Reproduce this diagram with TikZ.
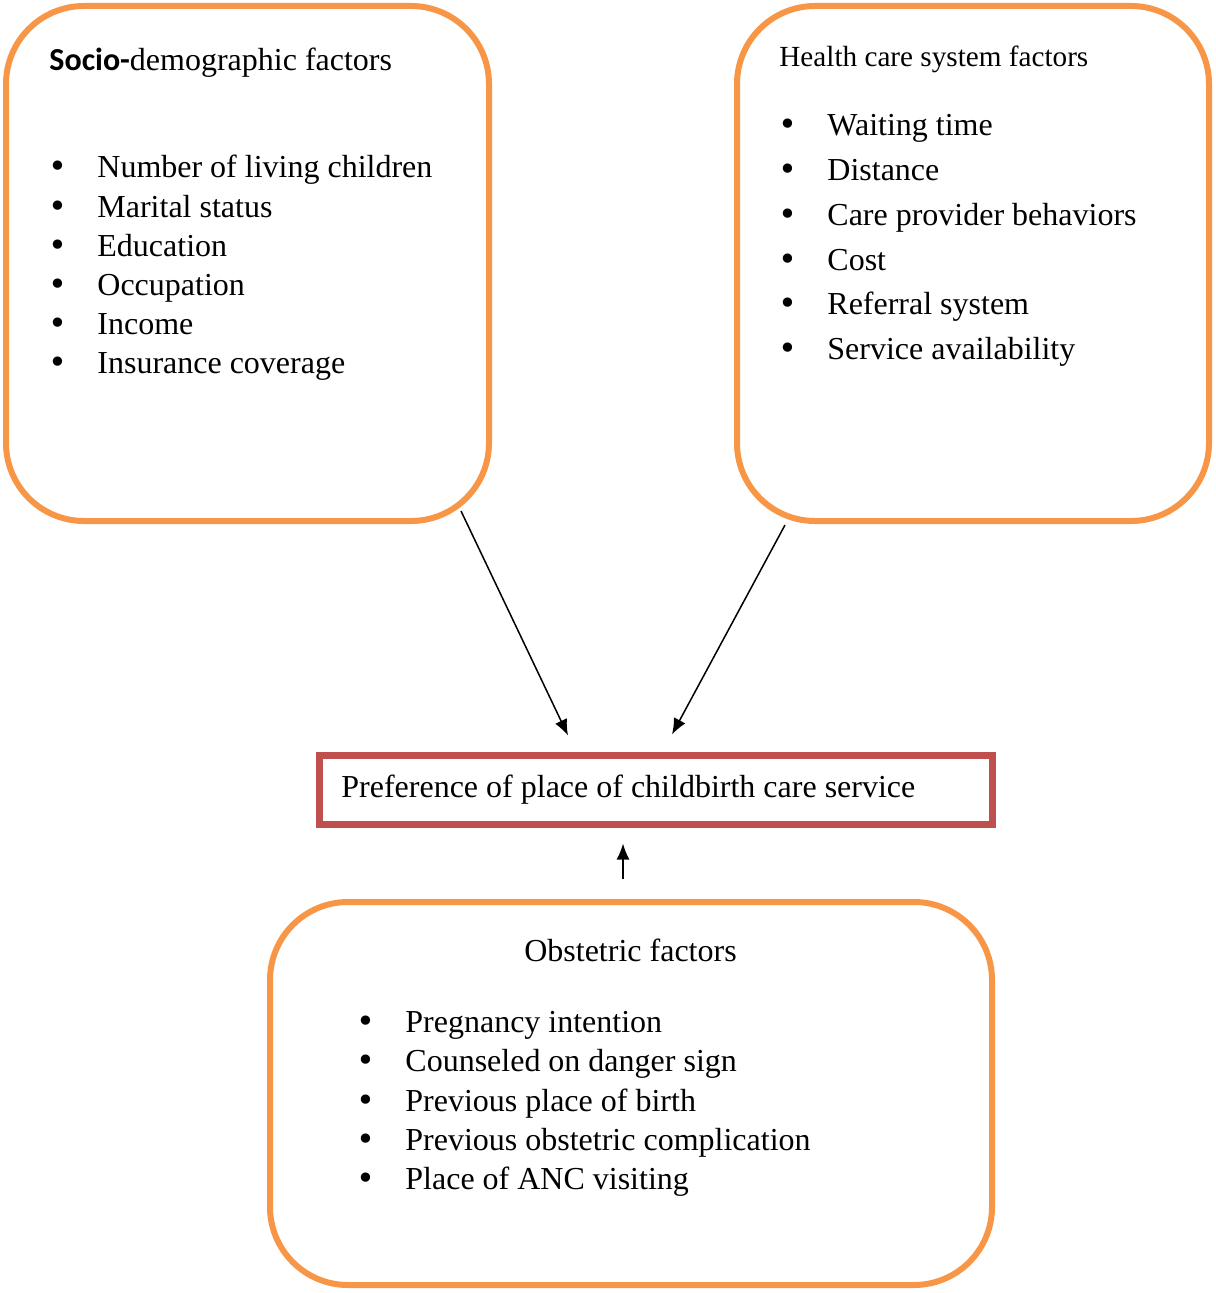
\documentclass[tikz,border=0pt]{standalone}
\usepackage{fontspec}
\setmainfont{Liberation Serif}
\newfontfamily\calibrifont{Carlito}
\newfontfamily\bulletfont{DejaVu Sans}
\usetikzlibrary{arrows.meta, positioning, calc}
\definecolor{boxorange}{HTML}{F79646}
\definecolor{boxred}{HTML}{C0504D}
\newcommand{\itembullet}{\makebox[22.8pt][l]{\hspace{-1.8pt}{\bulletfont\textbullet}}}

\begin{document}
\begin{tikzpicture}[x=0.5pt, y=-0.5pt,
      factor/.style={rectangle, rounded corners=39pt, draw=boxorange, line width=3pt, inner sep=0pt},
      outcome/.style={rectangle, draw=boxred, line width=3.5pt, inner sep=0pt, minimum width=336.5pt, minimum height=34.5pt},
      title/.style={anchor=base west, inner sep=0pt, font=\fontsize{16}{19.5}\selectfont},
      item/.style={anchor=base west, inner sep=0pt, font=\fontsize{16}{19.5}\selectfont},
      link/.style={-{Latex[length=8pt, width=6.5pt]}, line width=0.75pt}]
  \useasboundingbox (0,0) rectangle (1215,1293);

  % factor boxes and outcome
  \node[factor, minimum width=241.5pt, minimum height=257.5pt] (socio) at (247.5,263.5) {};
  \node[factor, minimum width=236pt, minimum height=257.5pt] (health) at (973,263.5) {};
  \node[factor, minimum width=361pt, minimum height=191.5pt] (obst) at (631,1093.5) {};
  \node[outcome] (pref) at (655.5,789.5) {};

  % socio-demographic
  \node[title] (sociotitle) at (49,70.7) {{\calibrifont\bfseries Socio-}demographic factors};
  \foreach \txt [count=\i from 0] in {Number of living children, Marital status, Education, Occupation, Income, Insurance coverage}
    \node[item] (sd\i) at (51.4,{178+39.2*\i}) {\itembullet\txt};

  % health care system
  \node[title, font=\fontsize{14.6}{18}\selectfont] (healthtitle) at (779,66.3) {Health care system factors};
  \foreach \txt [count=\i from 0] in {Waiting time, Distance, Care provider behaviors, Cost, Referral system, Service availability}
    \node[item] (hc\i) at (781.4,{135.7+44.8*\i}) {\itembullet\txt};

  % obstetric
  \node[title, anchor=base] (obsttitle) at (630.5,961) {Obstetric factors};
  \foreach \txt [count=\i from 0] in {Pregnancy intention, Counseled on danger sign, Previous place of birth, Previous obstetric complication, Place of ANC visiting}
    \node[item] (ob\i) at (359.4,{1032.7+39.25*\i}) {\itembullet\txt};

  \node[title] (preftext) at (341,797) {Preference of place of childbirth care service};

  % arrows
  \draw[link] ($(socio.south east)+(-31,-13)$) -- ($(pref.north)+(-87.5,-16)$);
  \draw[link] ($(health.south west)+(51,1)$) -- ($(pref.north)+(16.5,-17)$);
  \draw[link] ($(obst.north)+(-8,-20)$) -- ($(pref.south)+(-32.5,16)$);
\end{tikzpicture}
\end{document}
